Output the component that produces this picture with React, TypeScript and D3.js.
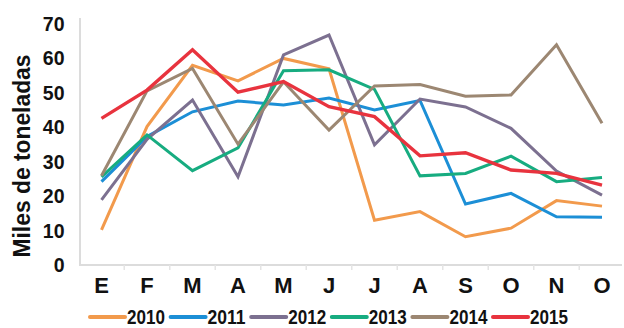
import React from "react";
import * as d3 from "d3";

// Month initials (Spanish)
const months = ["E", "F", "M", "A", "M", "J", "J", "A", "S", "O", "N", "O"];
const yTicks = [0, 10, 20, 30, 40, 50, 60, 70];

// Thousands of tonnes per month, one array per year
const y2010 = [10.2, 40.2, 58, 53.5, 60, 57, 13, 15.5, 8.2, 10.7, 18.7, 17.1];
const y2011 = [24.2, 37.3, 44.5, 47.6, 46.5, 48.5, 45, 47.8, 17.7, 20.8, 14, 13.9];
const y2012 = [18.9, 36.5, 47.9, 25.6, 61, 66.8, 34.9, 48.2, 45.9, 39.7, 27.3, 20.3];
const y2013 = [25.6, 37.8, 27.4, 34, 56.4, 56.7, 51, 25.9, 26.6, 31.6, 24.2, 25.4];
const y2014 = [25.9, 50.6, 57.1, 35.1, 53.2, 39.2, 52, 52.4, 49, 49.4, 64, 41.2];
const y2015 = [42.6, 50.8, 62.5, 50.2, 53.3, 46, 43.1, 31.7, 32.6, 27.6, 26.6, 23.2];

const years = ["2010", "2011", "2012", "2013", "2014", "2015"];
const colors = ["#F29A4C", "#1C8FD6", "#7C7090", "#17AC80", "#9C8772", "#E8333E"];
const seriesValues = [y2010, y2011, y2012, y2013, y2014, y2015];

const W = 624;
const H = 328;
const FONT = "'Liberation Sans', Arial, Helvetica, sans-serif";

export default function App() {
  const x = d3
    .scalePoint<number>()
    .domain(months.map((_, i) => i))
    .range([101.5, 602]);
  const y = d3.scaleLinear().domain([0, 70]).range([265, 24]);
  const step = x.step();

  const line = d3
    .line<number>()
    .x((_, i) => x(i) as number)
    .y((d) => y(d));

  const legendX = d3.scaleLinear().domain([0, 5]).range([90, 493]);

  return (
    <svg
      width={W}
      height={H}
      style={{ position: "absolute", left: 0, top: 0, background: "#fff" }}
      fontFamily={FONT}
      fontWeight="bold"
    >
      {/* axes */}
      <line x1={80} x2={80} y1={18} y2={266} stroke="#dcdcdc" strokeWidth={2} />
      <line x1={79} x2={622} y1={265} y2={265} stroke="#dcdcdc" strokeWidth={2} />
      {months.map((_, i) => (
        <line
          key={"t" + i}
          x1={(x(i) as number) + step / 2}
          x2={(x(i) as number) + step / 2}
          y1={265}
          y2={270}
          stroke="#e4e4e4"
          strokeWidth={1.5}
        />
      ))}

      {/* y tick labels */}
      {yTicks.map((t) => (
        <text
          key={"y" + t}
          x={64.5}
          y={y(t)}
          dy="0.36em"
          textAnchor="end"
          fontSize={19.5}
          fill="#111"
        >
          {t}
        </text>
      ))}

      {/* y axis title */}
      <text
        transform="translate(30,156) rotate(-90)"
        textAnchor="middle"
        fontSize={24}
        textLength={203}
        lengthAdjust="spacingAndGlyphs"
        fill="#111"
      >
        Miles de toneladas
      </text>

      {/* x labels */}
      {months.map((m, i) => (
        <text
          key={"x" + i}
          x={x(i) as number}
          y={293}
          textAnchor="middle"
          fontSize={22}
          fill="#111"
        >
          {m}
        </text>
      ))}

      {/* series */}
      {seriesValues.map((vals, k) => (
        <path
          key={years[k]}
          d={line(vals) ?? ""}
          fill="none"
          stroke={colors[k]}
          strokeWidth={k === 5 ? 3.4 : 3}
          strokeLinejoin="miter"
        />
      ))}

      {/* legend */}
      {years.map((yr, k) => {
        const lx = legendX(k);
        return (
          <g key={"l" + yr}>
            <line
              x1={lx}
              x2={lx + 35}
              y1={317}
              y2={317}
              stroke={colors[k]}
              strokeWidth={4}
              strokeLinecap="round"
            />
            <text
              x={lx + 37}
              y={323.5}
              fontSize={20}
              textLength={38}
              lengthAdjust="spacingAndGlyphs"
              fill="#111"
            >
              {yr}
            </text>
          </g>
        );
      })}
    </svg>
  );
}
